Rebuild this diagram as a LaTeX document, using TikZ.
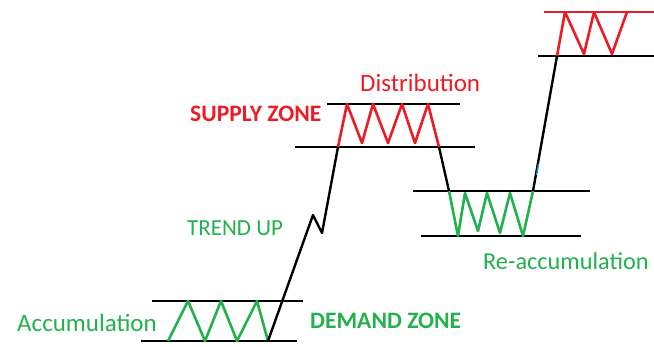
\documentclass[tikz,border=0pt]{standalone}
\usepackage{fontspec}
\setmainfont{Carlito}

\definecolor{zonegreen}{RGB}{34,177,76}
\definecolor{zonered}{RGB}{237,28,36}
\definecolor{tickblue}{RGB}{0,162,232}

\begin{document}
\begin{tikzpicture}[x=1pt, y=-1pt, line join=round,
    level/.style={draw=black, line width=2.4pt},
    price/.style={draw=black, line width=2.4pt},
    buyzig/.style={draw=zonegreen, line width=2.6pt},
    sellzig/.style={draw=zonered, line width=2.6pt},
    tag/.style={anchor=base west, inner sep=0pt, font=\fontsize{25}{29}\selectfont},
    boldtag/.style={tag, font=\fontsize{23.6}{27}\selectfont\bfseries}]

        \useasboundingbox (0,0) rectangle (654,347);

        % accumulation box
        \draw[level] (152,301) -- (303,301);
        \draw[level] (141,341) -- (297,341);
        \draw[buyzig] (168,341) -- (188,301) -- (205,341) -- (221,301)
            -- (237,341) -- (257,301) -- (268,341);

        % supply box
        \draw[level] (327,104) -- (460,104);
        \draw[level] (295,147) -- (475,147);
        \draw[sellzig] (338,147) -- (347,104) -- (362,143) -- (373,104)
            -- (388,143) -- (402,104) -- (415,143) -- (428,104) -- (439,147);

        % re-accumulation box
        \draw[level] (413,191) -- (590,191);
        \draw[level] (421,236) -- (581,236);
        \draw[buyzig] (449,191) -- (458,236) -- (465,193) -- (478,231)
            -- (487,193) -- (500,233) -- (510,193) -- (523,236) -- (533,191);

        % top box
        \draw[level] (538,56) -- (654,56);
        \draw[draw=zonered, line width=2.4pt] (544,12) -- (654,12);
        \draw[sellzig] (557,56) -- (565,12) -- (584,54) -- (594,12)
            -- (612,54) -- (627,12);

        % price moves between the boxes
        \coordinate (accEnd) at (268,341);
        \coordinate (supStart) at (338,147);
        \coordinate (supEnd) at (439,147);
        \coordinate (reaStart) at (449,191);
        \coordinate (reaEnd) at (533,191);
        \coordinate (topStart) at (557,56);

        \draw[price] (accEnd) -- (313,215) -- (322,233) -- (supStart);
        \draw[price] (supEnd) -- (reaStart);
        \draw[price] (reaEnd) -- (topStart);
        \draw[tickblue, line width=1.2pt] (538.5,164) -- (536.5,175);

        % labels
        \node[tag, text=zonegreen] (accum) at (17,332) {Accumulation};
        \node[boldtag, text=zonegreen] (demand) at (310,329) {DEMAND ZONE};
        \node[tag, text=zonegreen, font=\fontsize{23}{27}\selectfont] (trend) at (187,236) {TREND UP};
        \node[boldtag, text=zonered] (supply) at (190,122) {SUPPLY ZONE};
        \node[tag, text=zonered] (distrib) at (360,92) {Distribution};
        \node[tag, text=zonegreen, font=\fontsize{24.3}{28}\selectfont] (reaccum) at (483,270) {Re-accumulation};

    \end{tikzpicture}
\end{document}
